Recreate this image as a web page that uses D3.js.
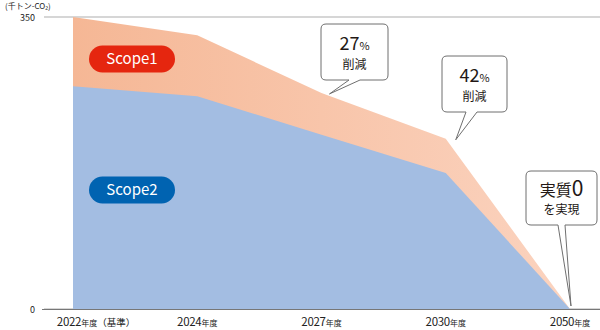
<!DOCTYPE html>
<html><head><meta charset="utf-8">
<script src="https://cdn.jsdelivr.net/npm/d3@7"></script>
<style>html,body{margin:0;padding:0;background:#fff}svg{display:block}text{font-family:"Noto Sans CJK JP","Noto Sans",sans-serif}</style>
</head><body><svg id="c" width="600" height="330"></svg>
<script>
const categories = ["2022", "2024", "2027", "2030", "2050"];
const catLabels = ["2022", "2024", "2027", "2030", "2050"];
const scope2 = [267, 255, 209, 163, 0];
const scope1 = [83, 73, 50, 41, 0];
const yTicks = [0, 350];
const unitLabel = "(千トン-CO\u2082)";

const svg = d3.select("#c");
const x = d3.scalePoint().domain(categories).range([73, 570]);
const y = d3.scaleLinear().domain([0, 350]).range([309, 17]);

const data = categories.map((c, i) => ({c, s2: scope2[i], s1: scope1[i]}));

const defs = svg.append("defs");
const g1 = defs.append("linearGradient").attr("id","g1").attr("x1","0").attr("x2","1").attr("y1","0").attr("y2","0");
g1.append("stop").attr("offset","0").attr("stop-color","#f5b795");
g1.append("stop").attr("offset","1").attr("stop-color","#fbd3bf");

// grid lines
svg.selectAll("line.g").data(yTicks).enter().append("line")
  .attr("x1", 44).attr("x2", 600).attr("y1", d => y(d)).attr("y2", d => y(d))
  .attr("stroke", "#c8c8c8").attr("stroke-width", 1.5);

const areaTotal = d3.area().x(d => x(d.c)).y0(y(0)).y1(d => y(d.s1 + d.s2));
const area2 = d3.area().x(d => x(d.c)).y0(y(0)).y1(d => y(d.s2));
svg.append("path").datum(data).attr("d", areaTotal).attr("fill", "url(#g1)");
svg.append("path").datum(data).attr("d", area2).attr("fill", "#a3bde2");

// axis line bottom
svg.append("line").attr("x1", 42).attr("x2", 600).attr("y1", y(0)+0.5).attr("y2", y(0)+0.5)
  .attr("stroke", "#777").attr("stroke-width", 1);

// y labels
svg.selectAll("text.yl").data(yTicks).enter().append("text")
  .attr("x", 35).attr("y", d => y(d) + 4).attr("text-anchor", "end")
  .attr("font-size", 9).attr("fill", "#222").text(d => d);
svg.append("text").attr("x", 5).attr("y", 9).attr("font-size", 8).attr("fill", "#222").text(unitLabel);

// x labels
const xl = svg.selectAll("g.xl").data(catLabels).enter().append("g");
xl.each(function(d, i) {
  const t = d3.select(this).append("text").attr("y", 326).attr("fill", "#222");
  t.append("tspan").attr("font-size", 11.5).attr("letter-spacing", -0.3).text(d);
  t.append("tspan").attr("font-size", 8).text("年度");
  const w = t.node().getComputedTextLength();
  if (i === 0) t.append("tspan").attr("font-size", 9.5).text("（基準）");
  t.attr("x", x(categories[i]) - w / 2 + (i === 0 ? 4 : 0));
});

// pills
function pill(cx, cy, label, color) {
  svg.append("rect").attr("x", cx - 43).attr("y", cy - 13.5).attr("width", 86).attr("height", 27)
    .attr("rx", 13.5).attr("fill", color);
  svg.append("text").attr("x", cx).attr("y", cy + 5).attr("text-anchor", "middle")
    .attr("font-family", "'Open Sans',sans-serif").attr("font-size", 15).attr("fill", "#fff").text(label);
}
pill(132, 59, "Scope1", "#e5260f");
pill(132, 190, "Scope2", "#0063b1");

// callouts
function callout(bx, by, bw, bh, t1x, t2x, tipX, tipY, big, line2) {
  const r = 5, b = by + bh;
  const p = `M${bx+r},${by} H${bx+bw-r} Q${bx+bw},${by} ${bx+bw},${by+r} V${b-r} Q${bx+bw},${b} ${bx+bw-r},${b}
    H${t2x} L${tipX},${tipY} L${t1x},${b} H${bx+r} Q${bx},${b} ${bx},${b-r} V${by+r} Q${bx},${by} ${bx+r},${by} Z`;
  svg.append("path").attr("d", p).attr("fill", "#fff").attr("stroke", "#6f6f6f").attr("stroke-width", 1);
  const cx = bx + bw / 2;
  const t = svg.append("text").attr("x", cx).attr("y", by + bh * 0.47).attr("text-anchor", "middle").attr("fill", "#231815");
  big.forEach(([s, fs]) => t.append("tspan").attr("font-size", fs).text(s));
  svg.append("text").attr("x", cx).attr("y", by + bh * 0.8).attr("text-anchor", "middle")
    .attr("font-size", 12).attr("fill", "#231815").text(line2);
}
callout(321, 24, 67, 56, 349, 360, x("2027") + 8, y(scope1[2] + scope2[2]) + 1, [["27", 18], ["%", 11]], "削減");
callout(442, 56, 65, 56, 466, 477, x("2030") + 10, y(scope1[3] + scope2[3]) + 1, [["42", 18], ["%", 11]], "削減");
callout(526, 171, 71, 54, 558, 565, x("2050") + 1, y(0) - 3, [["実質", 16], ["0", 21]], "を実現");
</script></body></html>
